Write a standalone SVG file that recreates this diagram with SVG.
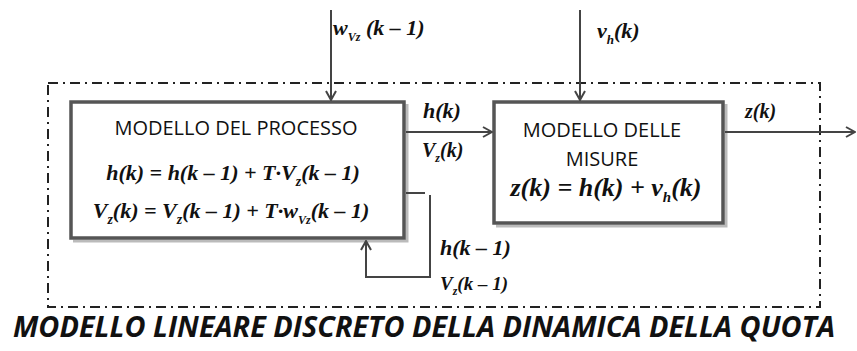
<svg xmlns="http://www.w3.org/2000/svg" width="857" height="351" viewBox="0 0 857 351">
<style>
.ln{fill:none;stroke:#444;stroke-width:2}
.box{fill:#fff;stroke:#555;stroke-width:3.5}
.sh{fill:none;stroke:#bbb;stroke-width:3}
.frame{fill:none;stroke:#222;stroke-width:2;stroke-dasharray:10 5 2 5}
.lab{font-family:"Open Sans",sans-serif;font-size:20px;fill:#111}
.eq{font-family:"Liberation Serif","DejaVu Serif",serif;font-weight:bold;font-style:italic;fill:#111}
.title{font-family:"Open Sans",sans-serif;font-weight:bold;font-style:italic;font-size:29px;fill:#111}
</style>
<defs>
<marker id="ah" viewBox="0 0 12 12" refX="11" refY="6" markerWidth="12" markerHeight="12" markerUnits="userSpaceOnUse" orient="auto">
<polyline points="2,1 11,6 2,11" fill="none" stroke="#444" stroke-width="2"/>
</marker>
</defs>
<rect class="frame" x="48" y="83" width="772" height="224"/>
<g id="processo">
<polyline class="sh" points="407,104 407,241 73,241"/>
<rect class="box" x="71" y="102" width="333" height="136"/>
<text class="lab" x="236" y="135" text-anchor="middle">MODELLO DEL PROCESSO</text>
<text class="eq" x="233" y="180" font-size="22" text-anchor="middle">h(k) = h(k – 1) + T·V<tspan font-size="14" dy="6">z</tspan><tspan dy="-6">(k – 1)</tspan></text>
<text class="eq" x="231" y="218" font-size="22" text-anchor="middle">V<tspan font-size="14" dy="6">z</tspan><tspan dy="-6">(k) = V</tspan><tspan font-size="14" dy="6">z</tspan><tspan dy="-6">(k – 1) + T·w</tspan><tspan font-size="12" dy="6">Vz</tspan><tspan dy="-6">(k – 1)</tspan></text>
</g>
<g id="misure">
<polyline class="sh" points="726,104 726,226 496,226"/>
<rect class="box" x="494" y="102" width="229" height="121"/>
<text class="lab" x="602" y="137" text-anchor="middle">MODELLO DELLE</text>
<text class="lab" x="602" y="166" text-anchor="middle">MISURE</text>
<text class="eq" x="606" y="196" font-size="26" text-anchor="middle">z(k) = h(k) + v<tspan font-size="15" dy="6">h</tspan><tspan dy="-6">(k)</tspan></text>
</g>
<g id="connectors">
<line class="ln" x1="331" y1="10" x2="331" y2="100" marker-end="url(#ah)"/>
<line class="ln" x1="580" y1="10" x2="580" y2="100" marker-end="url(#ah)"/>
<line class="ln" x1="406" y1="132" x2="492" y2="132" marker-end="url(#ah)"/>
<line class="ln" x1="725" y1="132" x2="855" y2="132" marker-end="url(#ah)"/>
<line class="ln" x1="406" y1="193" x2="425" y2="193"/>
<polyline class="ln" points="430,195 430,277 366,277 366,241" marker-end="url(#ah)"/>
</g>
<g id="labels">
<text class="eq" x="333" y="35" font-size="22">w<tspan font-size="12" dy="6">Vz</tspan><tspan dy="-6"> (k – 1)</tspan></text>
<text class="eq" x="597" y="38" font-size="22">v<tspan font-size="13" dy="6">h</tspan><tspan dy="-6">(k)</tspan></text>
<text class="eq" x="423" y="118" font-size="22">h(k)</text>
<text class="eq" x="422" y="157" font-size="20">V<tspan font-size="12" dy="5">z</tspan><tspan dy="-5">(k)</tspan></text>
<text class="eq" x="745" y="118" font-size="20">z(k)</text>
<text class="eq" x="440" y="255" font-size="22">h(k – 1)</text>
<text class="eq" x="440" y="290" font-size="19">V<tspan font-size="12" dy="5">z</tspan><tspan dy="-5">(k – 1)</tspan></text>
</g>
<text class="title" x="13" y="337" textLength="822" lengthAdjust="spacingAndGlyphs">MODELLO LINEARE DISCRETO DELLA DINAMICA DELLA QUOTA</text>
</svg>
